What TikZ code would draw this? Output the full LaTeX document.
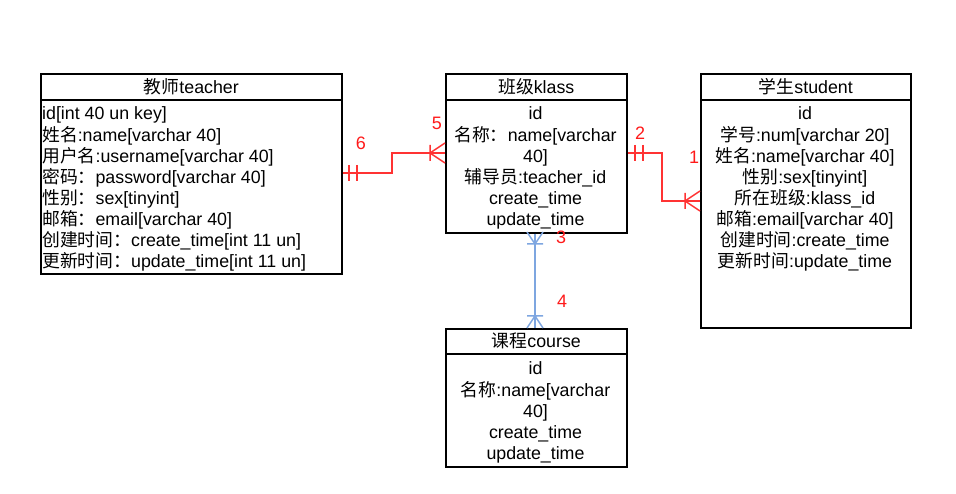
\documentclass[tikz,border=0pt]{standalone}
\usepackage{fontspec}
\setmainfont{Liberation Sans}
\newfontfamily\zhfont{Noto Sans CJK SC}
\newcommand\zh[1]{{\zhfont #1}}
\definecolor{relred}{HTML}{FF3333}
\definecolor{numred}{HTML}{FF1A1A}
\definecolor{relblue}{HTML}{7EA6E0}
\begin{document}
\begin{tikzpicture}[x=1pt,y=-1pt,
  box/.style={draw=black, line width=1.6pt, inner sep=0pt, anchor=north west, font=\fontsize{17.8}{21}\selectfont},
  txt/.style={inner sep=0pt, font=\fontsize{17.8}{21}\selectfont},
  rel/.style={draw=relred, line width=1.5pt},
  relb/.style={draw=relblue, line width=1.5pt},
  num/.style={inner sep=0pt, text=numred, font=\fontsize{18}{21}\selectfont}]
\useasboundingbox (0,0) rectangle (956,494);

% teacher
\node[box, minimum width=301pt, minimum height=26pt] (teacherH) at (40,73) {\zh{教师}teacher};
\node[box, minimum width=301pt, minimum height=174pt] (teacherB) at (40,99) {};
\node[txt, anchor=north west, align=left] (teacherL) at (42,104.3) {\strut id[int 40 un key]\\
\zh{姓名}:name[varchar 40]\\
\zh{用户名}:username[varchar 40]\\
\zh{密码：}password[varchar 40]\\
\zh{性别：}sex[tinyint]\\
\zh{邮箱：}email[varchar 40]\\
\zh{创建时间：}create\_time[int 11 un]\\
\zh{更新时间：}update\_time[int 11 un]};

% klass
\node[box, minimum width=181pt, minimum height=26pt] (klassH) at (445,73) {\zh{班级}klass};
\node[box, minimum width=181pt, minimum height=133pt] (klassB) at (445,99) {};
\node[txt, anchor=north, align=center] (klassL) at (535.5,104.3) {\strut id\\
\zh{名称：}name[varchar\\
40]\\
\zh{辅导员}:teacher\_id\\
create\_time\\
update\_time};

% student
\node[box, minimum width=210pt, minimum height=26pt] (studentH) at (700,73) {\zh{学生}student};
\node[box, minimum width=210pt, minimum height=228pt] (studentB) at (700,99) {};
\node[txt, anchor=north, align=center] (studentL) at (805,104.3) {\strut id\\
\zh{学号}:num[varchar 20]\\
\zh{姓名}:name[varchar 40]\\
\zh{性别}:sex[tinyint]\\
\zh{所在班级}:klass\_id\\
\zh{邮箱}:email[varchar 40]\\
\zh{创建时间}:create\_time\\
\zh{更新时间}:update\_time};

% course
\node[box, minimum width=181pt, minimum height=25pt] (courseH) at (445,328) {\zh{课程}course};
\node[box, minimum width=181pt, minimum height=113pt] (courseB) at (445,353) {};
\node[txt, anchor=north, align=center] (courseL) at (535.5,359.3) {\strut id\\
\zh{名称}:name[varchar\\
40]\\
create\_time\\
update\_time};

% teacher -- klass
\coordinate (tk1) at (teacherB.east |- 0,173);
\coordinate (tk2) at (klassB.west |- 0,153);
\draw[rel] (tk1) -- (392,173) -- (392,153) -- (tk2);
\draw[rel] (349,165) -- (349,181) (357,165) -- (357,181);
\draw[rel] (430,145) -- (430,161) (tk2) ++(0,-10) -- (430,153) -- ++(15,10);

% klass -- student
\coordinate (ks1) at (klassB.east |- 0,153);
\coordinate (ks2) at (studentB.west |- 0,201);
\draw[rel] (ks1) -- (662,153) -- (662,201) -- (ks2);
\draw[rel] (635,145) -- (635,161) (643,145) -- (643,161);
\draw[rel] (685,193) -- (685,209) (ks2) ++(0,-10) -- (685,201) -- ++(15,10);

% klass -- course
\coordinate (kc1) at (klassB.south -| 535,0);
\coordinate (kc2) at (courseH.north -| 535,0);
\draw[relb] (kc1) -- (kc2);
\draw[relb] (527,232) -- (535,244) -- (543,232) (527,244) -- (543,244);
\draw[relb] (527,328) -- (535,316) -- (543,328) (527,316) -- (543,316);

% labels
\node[num] (n1) at (694,157) {1};
\node[num] (n2) at (640,133) {2};
\node[num] (n3) at (561,237) {3};
\node[num] (n4) at (562,301) {4};
\node[num] (n5) at (437,123) {5};
\node[num] (n6) at (361,143) {6};
\end{tikzpicture}
\end{document}
